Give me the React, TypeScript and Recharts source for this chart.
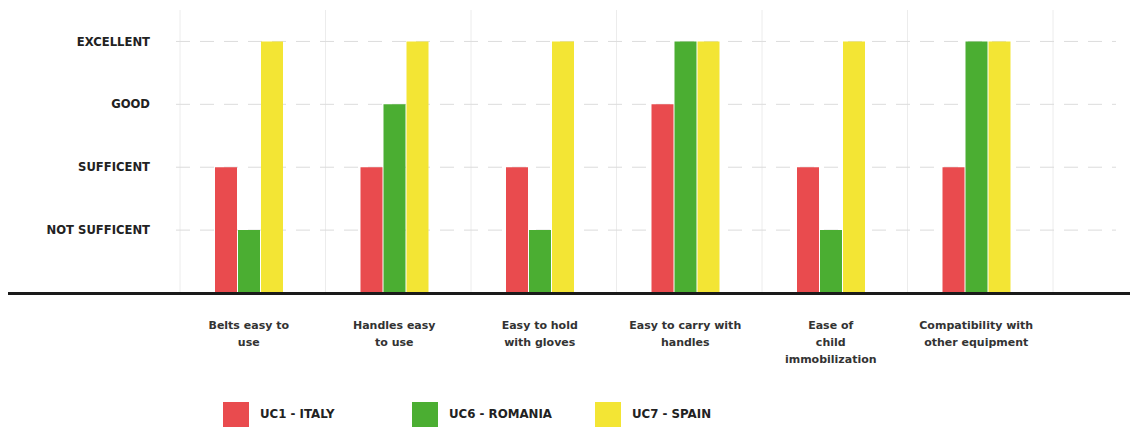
import React from "react";
import {
  BarChart,
  Bar,
  XAxis,
  YAxis,
  CartesianGrid,
  Legend,
} from "recharts";

const CATEGORIES = [
  "Belts easy to\nuse",
  "Handles easy\nto use",
  "Easy to hold\nwith gloves",
  "Easy to carry with\nhandles",
  "Ease of\nchild\nimmobilization",
  "Compatibility with\nother equipment",
];

// 1 = not sufficent ... 4 = excellent
const ITALY = [2, 2, 2, 3, 2, 2];
const ROMANIA = [1, 3, 1, 4, 1, 4];
const SPAIN = [4, 4, 4, 4, 4, 4];

const LEVELS = ["", "NOT SUFFICENT", "SUFFICENT", "GOOD", "EXCELLENT"];
const LEVEL_TICKS = [1, 2, 3, 4];
const Y_MAX = 4.5;

const SERIES = [
  { key: "italy", name: "UC1 - ITALY", color: "#E94B4E" },
  { key: "romania", name: "UC6 - ROMANIA", color: "#4BAE32" },
  { key: "spain", name: "UC7 - SPAIN", color: "#F3E534" },
];

const data = CATEGORIES.map((c, i) => ({
  name: c,
  italy: ITALY[i],
  romania: ROMANIA[i],
  spain: SPAIN[i],
}));

const W = 1130;
const H = 419;
const TOP = 2;
const LEGEND_H = 30;
const XAXIS_H = 104;
const PAD_RIGHT = 67;
const GRID_SHIFT = 4; // band lines sit a little right of the bars in the original
const PLOT_BOTTOM = H - LEGEND_H - XAXIS_H;

const FONT = "'DejaVu Sans', Verdana, sans-serif";

function CategoryTick({ x, y, payload }: any) {
  const lines = String(payload.value).split("\n");
  return (
    <text
      x={x}
      y={y + 28}
      textAnchor="middle"
      fontFamily={FONT}
      fontWeight="bold"
      fontSize={11}
      fill="#333"
    >
      {lines.map((l, i) => (
        <tspan key={i} x={x} dy={i === 0 ? 0 : 17}>
          {l}
        </tspan>
      ))}
    </text>
  );
}

function LegendBox() {
  return (
    <div
      style={{
        height: LEGEND_H,
        display: "flex",
        paddingLeft: 215,
        fontFamily: FONT,
        fontWeight: "bold",
        fontSize: 11.8,
        color: "#222",
      }}
    >
      {SERIES.map((s, i) => (
        <div
          key={s.key}
          style={{
            width: i === 0 ? 189 : 183,
            display: "flex",
            alignItems: "flex-start",
            marginTop: 5,
          }}
        >
          <span
            style={{
              width: 26,
              height: 26,
              background: s.color,
              display: "inline-block",
              flexShrink: 0,
            }}
          />
          <span style={{ marginLeft: 11, marginTop: 5 }}>{s.name}</span>
        </div>
      ))}
    </div>
  );
}

// grid lines on the category band boundaries
function verticalLines({ offset }: any) {
  const step = (offset.width - PAD_RIGHT) / CATEGORIES.length;
  return [...CATEGORIES, ""].map((_, i) => offset.left + GRID_SHIFT + i * step);
}

// dashed lines only at the level ticks
function horizontalLines({ offset }: any) {
  return LEVEL_TICKS.map((v) => offset.top + offset.height * (1 - v / Y_MAX));
}

export default function App() {
  return (
    <div style={{ position: "relative", width: W, height: H }}>
      <BarChart
        width={W}
        height={H}
        data={data}
        margin={{ top: TOP, right: 22, bottom: 0, left: 0 }}
        barSize={22}
        barGap={1}
      >
        <CartesianGrid
          horizontal={false}
          stroke="#ececec"
          verticalCoordinatesGenerator={verticalLines}
        />
        <CartesianGrid
          vertical={false}
          stroke="#dcdcdc"
          strokeDasharray="14 10"
          horizontalCoordinatesGenerator={horizontalLines}
        />
        <XAxis
          dataKey="name"
          height={XAXIS_H}
          axisLine={false}
          tickLine={false}
          interval={0}
          padding={{ left: 0, right: PAD_RIGHT }}
          tick={<CategoryTick />}
        />
        <YAxis
          type="number"
          width={168}
          domain={[0, Y_MAX]}
          ticks={LEVEL_TICKS}
          tickFormatter={(v: number) => LEVELS[v]}
          axisLine={false}
          tickLine={false}
          tickMargin={20}
          tick={{
            fontFamily: FONT,
            fontWeight: "bold",
            fontSize: 11.6,
            fill: "#222",
          }}
        />
        <Legend
          verticalAlign="bottom"
          align="left"
          height={LEGEND_H}
          content={() => <LegendBox />}
        />
        {SERIES.map((s) => (
          <Bar
            key={s.key}
            dataKey={s.key}
            name={s.name}
            fill={s.color}
            isAnimationActive={false}
          />
        ))}
      </BarChart>
      <div
        style={{
          position: "absolute",
          left: 0,
          top: PLOT_BOTTOM - 1,
          width: W,
          height: 3,
          background: "#1a1a1a",
        }}
      />
    </div>
  );
}
